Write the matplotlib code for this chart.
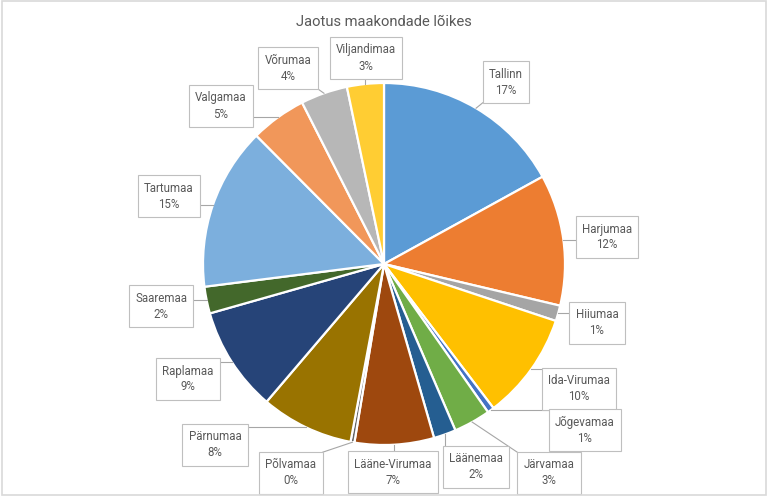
import matplotlib
matplotlib.use("Agg")
import matplotlib.pyplot as plt
import numpy as np
from matplotlib.patches import Rectangle

# ---- data ----
categories = ["Tallinn", "Harjumaa", "Hiiumaa", "Ida-Virumaa", "Jõgevamaa", "Järvamaa",
              "Läänemaa", "Lääne-Virumaa", "Põlvamaa", "Pärnumaa", "Raplamaa", "Saaremaa",
              "Tartumaa", "Valgamaa", "Võrumaa", "Viljandimaa"]
values = [17.05, 11.75, 1.4, 9.6, 0.6, 3.3, 2.0, 7.1, 0.35, 8.3, 9.4, 2.4, 14.6, 5.0, 4.2, 3.3]
colors = ["#5B9BD5", "#ED7D31", "#A5A5A5", "#FFC000", "#4472C4", "#70AD47",
          "#255E91", "#9E480E", "#636363", "#997300", "#264478", "#43682B",
          "#7CAFDD", "#F1975A", "#B7B7B7", "#FFCD33"]
title = "Jaotus maakondade lõikes"

# ---- layout (pixel positions of label boxes, top-left origin) ----
label_centers = [(506, 82), (607, 237), (597, 323), (579, 389), (585, 430), (549, 473),
                 (476, 467), (393, 472), (291, 473), (215, 445), (188, 379), (161, 306),
                 (169, 196), (221, 106), (288, 68), (366, 58)]

W, H = 768, 496
cx, cy, R = 384, 264, 181

plt.rcParams['font.family'] = ['Roboto', 'DejaVu Sans']
fig = plt.figure(figsize=(W / 100, H / 100), dpi=100)
ax = fig.add_axes([0, 0, 1, 1])
ax.set_xlim(0, W)
ax.set_ylim(0, H)
ax.set_aspect('equal')
ax.axis('off')

wedges, _ = ax.pie(values, colors=colors, startangle=90, counterclock=False,
                   center=(cx, H - cy), radius=R,
                   wedgeprops=dict(edgecolor='white', linewidth=1.6))
ax.set_xlim(0, W)
ax.set_ylim(0, H)

total = sum(values)
texts = []
for cat, v, (lx, ly) in zip(categories, values, label_centers):
    pct = int(round(v / total * 100))
    t = ax.text(lx, H - ly, f"{cat}\n{pct}%", ha='center', va='center', fontsize=8.3,
                color='#595959', linespacing=1.3, zorder=5,
                bbox=dict(boxstyle='square,pad=0.55', fc='white', ec='#BFBFBF', lw=0.8))
    texts.append(t)

ax.text(W / 2, H - 22, title, ha='center', va='center', fontsize=10.6, color='#595959')

fig.canvas.draw()
renderer = fig.canvas.get_renderer()
inv = ax.transData.inverted()
for w, t in zip(wedges, texts):
    mid = np.deg2rad((w.theta1 + w.theta2) / 2)
    ax_pt = np.array([cx + R * np.cos(mid), (H - cy) + R * np.sin(mid)])
    bb = t.get_bbox_patch().get_window_extent(renderer)
    (x0, y0), (x1, y1) = inv.transform([(bb.x0, bb.y0), (bb.x1, bb.y1)])
    px = min(max(ax_pt[0], x0), x1)
    py = min(max(ax_pt[1], y0), y1)
    ax.plot([ax_pt[0], px], [ax_pt[1], py], color='#A6A6A6', lw=0.8, zorder=4)

fig.patches.append(Rectangle((0.002, 0.003), 0.996, 0.994, transform=fig.transFigure,
                             fill=False, ec='#D9D9D9', lw=1.2))
fig.savefig("out.png", dpi=100)
